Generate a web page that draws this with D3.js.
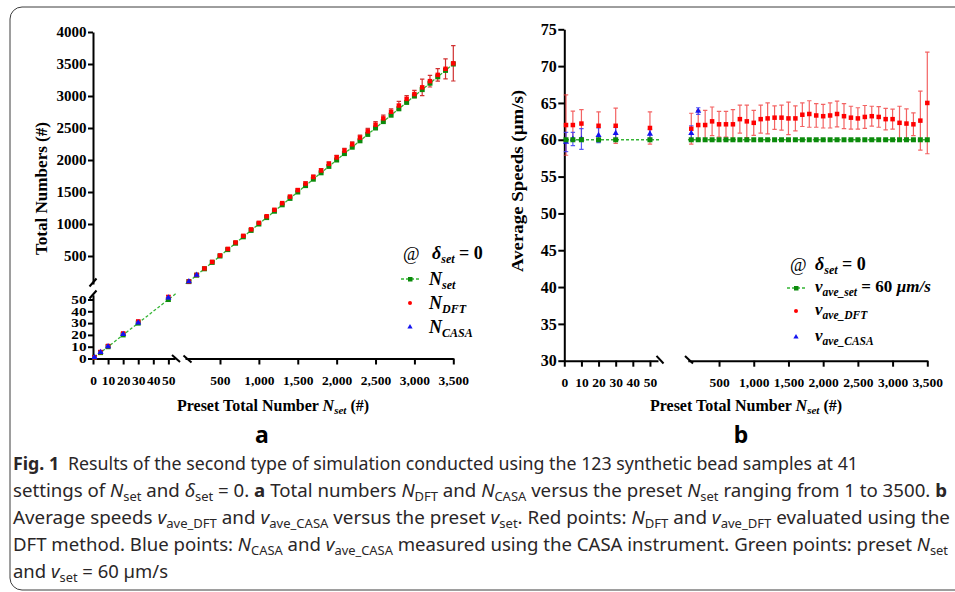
<!DOCTYPE html>
<html>
<head>
<meta charset="utf-8">
<script src="https://cdn.jsdelivr.net/npm/d3@7"></script>
<style>
    html, body { margin: 0; padding: 0; background: #fff; }
    svg { display: block; }
</style>
</head>
<body>
<svg id="chart" width="955" height="592"></svg>
<script>
// preset totals (x categories), split by the axis break
const nLow = [1, 5, 10, 20, 30, 50];
const nHigh = [100, 200, 300, 400, 500, 600, 700, 800, 900, 1000, 1100, 1200, 1300, 1400, 1500, 1600, 1700,
    1800, 1900, 2000, 2100, 2200, 2300, 2400, 2500, 2600, 2700, 2800, 2900, 3000, 3100, 3200, 3300, 3400, 3500];

// panel a : total numbers
const nSetLow = [1, 5, 10, 20, 30, 50];
const nSetHigh = [100, 200, 300, 400, 500, 600, 700, 800, 900, 1000, 1100, 1200, 1300, 1400, 1500, 1600, 1700,
    1800, 1900, 2000, 2100, 2200, 2300, 2400, 2500, 2600, 2700, 2800, 2900, 3000, 3100, 3200, 3300, 3400, 3500];
const nDftLow = [1, 5.5, 10.6, 21.2, 31.4, 52.2];
const nDftLowSd = [0.5, 0.6, 0.8, 0.9, 1.0, 1.2];
const nCasaLow = [1, 5.2, 10.2, 20.5, 30.3, 51.5];
const nCasaLowSd = [0.3, 0.4, 0.5, 0.6, 0.6, 0.8];
const nDftHigh = [102, 205, 306, 408, 509, 611, 712, 815, 916, 1018, 1121, 1222, 1326, 1427, 1530, 1632, 1735,
    1836, 1940, 2041, 2146, 2245, 2350, 2448, 2552, 2650, 2754, 2851, 2955, 3030, 3135, 3232, 3330, 3425, 3510];
const nDftHighSd = [3, 4, 5, 6, 7, 8, 9, 10, 12, 13, 15, 16, 18, 20, 22, 25, 30, 28, 30, 32, 36, 40, 38, 45, 48,
    52, 47, 65, 52, 57, 128, 91, 99, 156, 276];
const nCasaHighX = [100, 200];
const nCasaHigh = [100, 203];
const nCasaHighSd = [2, 3];

// panel b : average speeds
const vSet = 60;
const vDftLow = [62.0, 62.0, 62.2, 61.9, 61.9, 61.6];
const vDftLowSd = [4.1, 1.9, 1.9, 1.9, 2.4, 2.2];
const vCasaLow = [59.7, 60.1, 60.1, 60.6, 60.9, 60.8];
const vCasaLowSd = [1.3, 0.9, 1.4, 1.0, 0.8, 0.6];
const vDftHigh = [61.5, 62.0, 62.0, 62.5, 62.1, 62.1, 62.1, 62.8, 62.5, 62.3, 62.8, 62.9, 63.0, 63.0, 62.9, 62.9,
    63.4, 63.5, 63.3, 63.2, 63.3, 63.5, 63.2, 63.0, 62.9, 63.1, 63.2, 63.1, 62.8, 62.8, 62.3, 62.2, 62.1, 62.6, 65.0];
const vDftHighSd = [2.1, 2.0, 2.0, 1.95, 1.75, 1.75, 2.0, 1.9, 2.2, 1.7, 1.9, 2.1, 1.6, 1.7, 2.2, 1.7, 1.6, 1.8,
    1.6, 1.6, 1.7, 1.75, 1.7, 1.55, 1.45, 1.55, 1.35, 1.4, 1.45, 1.35, 2.25, 2.0, 1.55, 4.0, 6.9];
const vCasaHighX = [100, 200];
const vCasaHigh = [60.9, 63.9];
const vCasaHighSd = [1.0, 0.45];

// tick labels
const xLowTicks = [0, 10, 20, 30, 40, 50];
const xHighTicks = [500, 1000, 1500, 2000, 2500, 3000, 3500];
const nLowTicks = [0, 10, 20, 30, 40, 50];
const nHighTicks = [500, 1000, 1500, 2000, 2500, 3000, 3500, 4000];
const vTicks = [30, 35, 40, 45, 50, 55, 60, 65, 70, 75];

const SERIF = "'Liberation Serif','Times New Roman',serif";
const SANS = "'Noto Sans','Open Sans',sans-serif";
const RED = "#ff0000", BLUE = "#1414f0", GREEN = "#0b8a0b";

const svg = d3.select("#chart");
const defs = svg.append("defs");

// outer frame
svg.append("rect")
    .attr("x", 10).attr("y", 7).attr("width", 975).attr("height", 583).attr("rx", 12)
    .attr("fill", "none").attr("stroke", "#3c3c3c").attr("stroke-width", 1);

function styleAxis(g, fontSize) {
    g.select(".domain").attr("stroke", "#000").attr("stroke-width", 2);
    g.selectAll(".tick line").attr("stroke", "#000").attr("stroke-width", 2);
    g.selectAll(".tick text")
        .attr("font-family", SERIF).attr("font-weight", "bold")
        .attr("font-size", fontSize).attr("fill", "#000");
    return g;
}

// short slanted stroke that marks an axis break
function breakMark(x, y, dx, dy) {
    svg.append("line")
        .attr("x1", x - dx).attr("y1", y - dy).attr("x2", x + dx).attr("y2", y + dy)
        .attr("stroke", "#000").attr("stroke-width", 2);
}

function clipRect(id, x0, y0, x1, y1) {
    defs.append("clipPath").attr("id", id).append("rect")
        .attr("x", x0).attr("y", y0).attr("width", x1 - x0).attr("height", y1 - y0);
    return `url(#${id})`;
}

function errorBars(xs, vals, sds, x, y, color, width) {
    svg.append("g").attr("fill", "none").attr("stroke", color).attr("stroke-width", width)
        .selectAll("path").data(d3.zip(xs, vals, sds)).join("path")
        .attr("d", d => {
            const cx = x(d[0]), t = y(d[1] + d[2]), b = y(d[1] - d[2]);
            return `M${cx - 2.2},${t}H${cx + 2.2}M${cx},${t}V${b}M${cx - 2.2},${b}H${cx + 2.2}`;
        });
}

function squares(xs, vals, x, y, color, size) {
    svg.append("g").selectAll("rect").data(d3.zip(xs, vals)).join("rect")
        .attr("x", d => x(d[0]) - size / 2).attr("y", d => y(d[1]) - size / 2)
        .attr("width", size).attr("height", size).attr("fill", color);
}

function triangles(xs, vals, x, y, color, area) {
    const sym = d3.symbol().type(d3.symbolTriangle).size(area);
    svg.append("g").selectAll("path").data(d3.zip(xs, vals)).join("path")
        .attr("transform", d => `translate(${x(d[0])},${y(d[1])})`)
        .attr("d", sym).attr("fill", color);
}

function dashedLine(xs, vals, x, y, clip) {
    svg.append("path")
        .attr("clip-path", clip)
        .attr("d", d3.line().x(d => x(d[0])).y(d => y(d[1]))(d3.zip(xs, vals)))
        .attr("fill", "none").attr("stroke", "#35b535").attr("stroke-width", 1.3)
        .attr("stroke-dasharray", "3,2");
}

// text made of runs; flags: B bold, I italic, N upright, S subscript
function richText(parent, x, y, parts, o) {
    const t = parent.append("text").attr("x", x).attr("y", y)
        .attr("font-family", o.family).attr("font-size", o.size).attr("fill", o.fill || "#000");
    if (o.weight) t.attr("font-weight", o.weight);
    if (o.style) t.attr("font-style", o.style);
    if (o.anchor) t.attr("text-anchor", o.anchor);
    let shift = 0;
    parts.forEach(p => {
        const f = p[1] || "";
        const sp = t.append("tspan").text(p[0]);
        const want = f.includes("S") ? o.subShift : 0;
        if (want !== shift) { sp.attr("dy", want - shift); shift = want; }
        if (f.includes("S")) sp.attr("font-size", o.subSize);
        if (f.includes("B")) sp.attr("font-weight", "bold");
        if (f.includes("I")) sp.attr("font-style", "italic");
        if (f.includes("N")) sp.attr("font-style", "normal");
    });
    return t;
}

// ================= panel a =================
const axL = {
    xLow: d3.scaleLinear().domain([0, 54.4]).range([93, 175]),
    xHigh: d3.scaleLinear().domain([50, 3500]).range([185, 453.3]),
    yLow: d3.scaleLinear().domain([0, 54]).range([358.5, 294.8]),
    yHigh: d3.scaleLinear().domain([62.5, 4000]).range([284, 32])
};

styleAxis(svg.append("g").attr("transform", "translate(93,0)")
    .call(d3.axisLeft(axL.yHigh).tickValues(nHighTicks).tickSize(5).tickPadding(1.5).tickSizeOuter(0)
        .tickFormat(d3.format("d"))), 15);
// lower labels are short and wide in the reference: small size, stretched
styleAxis(svg.append("g").attr("transform", "translate(93,0)")
    .call(d3.axisLeft(axL.yLow).tickValues(nLowTicks).tickSize(5).tickPadding(1.5).tickSizeOuter(0)), 11.5)
    .selectAll(".tick text")
    .attr("textLength", d => String(d).length * 7.6).attr("lengthAdjust", "spacingAndGlyphs");
styleAxis(svg.append("g").attr("transform", "translate(0,358.5)")
    .call(d3.axisBottom(axL.xLow).tickValues(xLowTicks).tickSize(6).tickPadding(11).tickSizeOuter(0)), 13.5);
styleAxis(svg.append("g").attr("transform", "translate(0,358.5)")
    .call(d3.axisBottom(axL.xHigh).tickValues(xHighTicks).tickSize(6).tickPadding(11).tickSizeOuter(0)
        .tickFormat(d3.format(","))), 13.5);

breakMark(93, 282.5, 3.5, -4);
breakMark(93, 294.5, 3.5, -4);
breakMark(176, 358.5, 4, 3.5);
breakMark(187.5, 359, 4, 3.5);

const clipAL = clipRect("clipAL", 93, 292, 176, 360);
const clipAH = clipRect("clipAH", 185, 20, 460, 284);

dashedLine(nLow.concat([nHigh[0]]), nSetLow.concat([nSetHigh[0]]), axL.xLow, axL.yLow, clipAL);
dashedLine([nLow[nLow.length - 1]].concat(nHigh), [nSetLow[nSetLow.length - 1]].concat(nSetHigh),
    axL.xHigh, axL.yHigh, clipAH);

errorBars(nLow, nDftLow, nDftLowSd, axL.xLow, axL.yLow, "#d03030", 1.2);
errorBars(nHigh, nDftHigh, nDftHighSd, axL.xHigh, axL.yHigh, "#d03030", 1.2);
squares(nLow, nSetLow, axL.xLow, axL.yLow, GREEN, 5);
squares(nHigh, nSetHigh, axL.xHigh, axL.yHigh, GREEN, 5);
squares(nLow, nDftLow, axL.xLow, axL.yLow, RED, 4.5);
squares(nHigh, nDftHigh, axL.xHigh, axL.yHigh, RED, 4.5);
errorBars(nLow, nCasaLow, nCasaLowSd, axL.xLow, axL.yLow, "#5050ff", 1);
triangles(nLow, nCasaLow, axL.xLow, axL.yLow, BLUE, 16);
triangles(nCasaHighX, nCasaHigh, axL.xHigh, axL.yHigh, BLUE, 16);

// axis titles
svg.append("text").attr("transform", "translate(47,188.5) rotate(-90)")
    .attr("text-anchor", "middle").attr("font-family", SERIF).attr("font-weight", "bold")
    .attr("font-size", 16).attr("textLength", 133).attr("lengthAdjust", "spacingAndGlyphs")
    .text("Total Numbers (#)");
const xTitleParts = [["Preset Total Number "], ["N", "I"], ["set", "IS"], [" (#)"]];
richText(svg, 273, 411, xTitleParts,
    { family: SERIF, size: 16, weight: "bold", anchor: "middle", subSize: 11, subShift: 3 });

// legend a
const legA = svg.append("g");
legA.append("text").attr("x", 403).attr("y", 260).attr("font-family", SERIF).attr("font-size", 18).text("@");
richText(legA, 432, 259, [["δ", "I"], ["set", "IS"], [" = 0"]],
    { family: SERIF, size: 18, weight: "bold", subSize: 12, subShift: 4 });
legA.append("line").attr("x1", 401).attr("x2", 420).attr("y1", 279).attr("y2", 279)
    .attr("stroke", "#35b535").attr("stroke-width", 1.3).attr("stroke-dasharray", "3,2");
legA.append("rect").attr("x", 408).attr("y", 277).attr("width", 4.5).attr("height", 4.5).attr("fill", GREEN);
legA.append("circle").attr("cx", 410).attr("cy", 303).attr("r", 2).attr("fill", RED);
legA.append("path").attr("transform", "translate(410,327)")
    .attr("d", d3.symbol().type(d3.symbolTriangle).size(12)()).attr("fill", BLUE);
[["set", 285], ["DFT", 309], ["CASA", 333]].forEach(r => {
    richText(legA, 429, r[1], [["N", "I"], [r[0], "IS"]],
        { family: SERIF, size: 18, weight: "bold", subSize: 12, subShift: 4 });
});

svg.append("text").attr("x", 262).attr("y", 443).attr("text-anchor", "middle")
    .attr("font-family", SANS).attr("font-weight", "bold").attr("font-size", 23).text("a");

// ================= panel b =================
const axR = {
    xLow: d3.scaleLinear().domain([0, 54.7]).range([564.3, 658]),
    xHigh: d3.scaleLinear().domain([50, 3500]).range([687.8, 927.3]),
    y: d3.scaleLinear().domain([30, 75]).range([360.7, 29.3])
};

styleAxis(svg.append("g").attr("transform", "translate(564.3,0)")
    .call(d3.axisLeft(axR.y).tickValues(vTicks).tickSize(6).tickPadding(1.5).tickSizeOuter(0)), 16);
styleAxis(svg.append("g").attr("transform", "translate(0,360.7)")
    .call(d3.axisBottom(axR.xLow).tickValues(xLowTicks).tickSize(6).tickPadding(11).tickSizeOuter(0)), 13.5);
styleAxis(svg.append("g").attr("transform", "translate(0,360.7)")
    .call(d3.axisBottom(axR.xHigh).tickValues(xHighTicks).tickSize(6).tickPadding(11).tickSizeOuter(0)
        .tickFormat(d3.format(","))), 13.5);

breakMark(660, 359.7, 3.5, 3.8);
breakMark(689, 359.7, 4, 3.8);

const clipBL = clipRect("clipBL", 564, 20, 660, 365);
const clipBH = clipRect("clipBH", 687.8, 20, 935, 365);
const vSetLow = nLow.map(() => vSet);
const vSetHigh = nHigh.map(() => vSet);

errorBars(nLow, vDftLow, vDftLowSd, axR.xLow, axR.y, "rgba(240,60,60,0.8)", 1.2);
errorBars(nHigh, vDftHigh, vDftHighSd, axR.xHigh, axR.y, "rgba(240,60,60,0.8)", 1.2);
errorBars(nLow, vCasaLow, vCasaLowSd, axR.xLow, axR.y, "rgba(60,60,245,0.85)", 1.2);
errorBars(vCasaHighX, vCasaHigh, vCasaHighSd, axR.xHigh, axR.y, "rgba(60,60,245,0.85)", 1.2);
squares(nLow, vDftLow, axR.xLow, axR.y, RED, 4.5);
squares(nHigh, vDftHigh, axR.xHigh, axR.y, RED, 4.5);
triangles(nLow, vCasaLow, axR.xLow, axR.y, BLUE, 16);
triangles(vCasaHighX, vCasaHigh, axR.xHigh, axR.y, BLUE, 16);
dashedLine(nLow.concat([nHigh[0]]), vSetLow.concat([vSet]), axR.xLow, axR.y, clipBL);
dashedLine([nLow[nLow.length - 1]].concat(nHigh), [vSet].concat(vSetHigh), axR.xHigh, axR.y, clipBH);
squares(nLow, vSetLow, axR.xLow, axR.y, GREEN, 5);
squares(nHigh, vSetHigh, axR.xHigh, axR.y, GREEN, 5);

svg.append("text").attr("transform", "translate(522.5,181) rotate(-90)")
    .attr("text-anchor", "middle").attr("font-family", SERIF).attr("font-weight", "bold")
    .attr("font-size", 16).attr("textLength", 182).attr("lengthAdjust", "spacingAndGlyphs")
    .text("Average Speeds (µm/s)");
richText(svg, 746, 411, xTitleParts,
    { family: SERIF, size: 16, weight: "bold", anchor: "middle", subSize: 11, subShift: 3 });

// legend b
const legB = svg.append("g");
legB.append("text").attr("x", 790).attr("y", 271).attr("font-family", SERIF).attr("font-size", 18).text("@");
richText(legB, 815, 270, [["δ", "I"], ["set", "IS"], [" = 0"]],
    { family: SERIF, size: 18, weight: "bold", subSize: 12, subShift: 4 });
legB.append("line").attr("x1", 787).attr("x2", 805).attr("y1", 288).attr("y2", 288)
    .attr("stroke", "#35b535").attr("stroke-width", 1.3).attr("stroke-dasharray", "3,2");
legB.append("rect").attr("x", 794).attr("y", 286).attr("width", 4.5).attr("height", 4.5).attr("fill", GREEN);
legB.append("circle").attr("cx", 796).attr("cy", 311).attr("r", 2).attr("fill", RED);
legB.append("path").attr("transform", "translate(796,337)")
    .attr("d", d3.symbol().type(d3.symbolTriangle).size(12)()).attr("fill", BLUE);
richText(legB, 815, 292, [["v", "I"], ["ave_set", "IS"], [" = 60 "], ["µm/s", "I"]],
    { family: SERIF, size: 17, weight: "bold", subSize: 11.5, subShift: 4 });
richText(legB, 815, 315, [["v", "I"], ["ave_DFT", "IS"]],
    { family: SERIF, size: 17, weight: "bold", subSize: 11.5, subShift: 4 });
richText(legB, 815, 341, [["v", "I"], ["ave_CASA", "IS"]],
    { family: SERIF, size: 17, weight: "bold", subSize: 11.5, subShift: 4 });

svg.append("text").attr("x", 741).attr("y", 443).attr("text-anchor", "middle")
    .attr("font-family", SANS).attr("font-weight", "bold").attr("font-size", 23).text("b");

// ================= caption =================
const captionLines = [
    [["Fig. 1", "B"], ["\u2002Results of the second type of simulation conducted using the 123 synthetic bead samples at 41"]],
    [["settings of "], ["N", "I"], ["set", "S"], [" and "], ["δ", "I"], ["set", "S"], [" = 0. "], ["a", "B"],
        [" Total numbers "], ["N", "I"], ["DFT", "S"], [" and "], ["N", "I"], ["CASA", "S"],
        [" versus the preset "], ["N", "I"], ["set", "S"], [" ranging from 1 to 3500. "], ["b", "B"]],
    [["Average speeds "], ["v", "I"], ["ave_DFT", "S"], [" and "], ["v", "I"], ["ave_CASA", "S"],
        [" versus the preset "], ["v", "I"], ["set", "S"], [". Red points: "], ["N", "I"], ["DFT", "S"],
        [" and "], ["v", "I"], ["ave_DFT", "S"], [" evaluated using the"]],
    [["DFT method. Blue points: "], ["N", "I"], ["CASA", "S"], [" and "], ["v", "I"], ["ave_CASA", "S"],
        [" measured using the CASA instrument. Green points: preset "], ["N", "I"], ["set", "S"]],
    [["and "], ["v", "I"], ["set", "S"], [" = 60 µm/s"]]
];
const captionRight = [858, 947, 950, 948, null];

const cap = svg.append("g");
const capTexts = captionLines.map((parts, i) =>
    richText(cap, 13, 470 + i * 27, parts,
        { family: SANS, size: 18, fill: "#2a2627", subSize: 12.5, subShift: 4 }));
// squeeze the full lines to their measured width, the last one by the mean factor
let ks = [];
capTexts.forEach((t, i) => {
    if (captionRight[i] === null) return;
    const natural = t.node().getComputedTextLength();
    ks.push((captionRight[i] - 13) / natural);
    t.attr("textLength", captionRight[i] - 13).attr("lengthAdjust", "spacingAndGlyphs");
});
const kMean = d3.mean(ks);
capTexts.forEach((t, i) => {
    if (captionRight[i] !== null) return;
    t.attr("textLength", t.node().getComputedTextLength() * kMean).attr("lengthAdjust", "spacingAndGlyphs");
});
</script>
</body>
</html>
